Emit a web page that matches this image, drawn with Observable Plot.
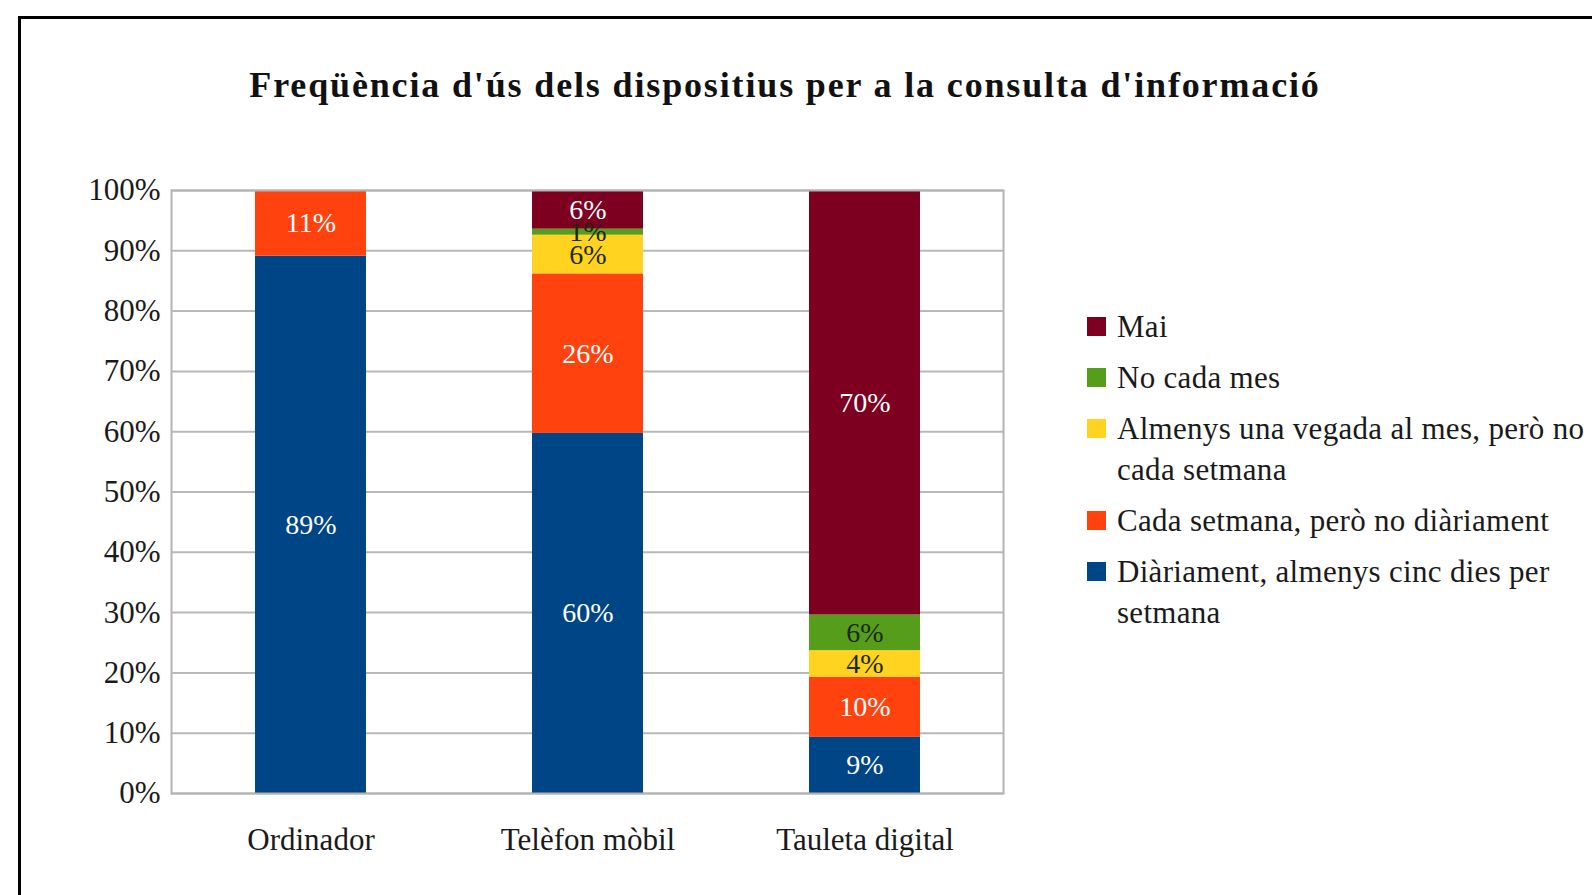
<!DOCTYPE html>
<html>
<head>
<meta charset="utf-8">
<script src="https://cdn.jsdelivr.net/npm/d3@7"></script>
<script src="https://cdn.jsdelivr.net/npm/@observablehq/plot@0.6"></script>
<style>
  html, body { margin: 0; padding: 0; background: #fff; }
  #wrap { position: relative; width: 1592px; height: 895px; overflow: hidden; background: #fff; font-family: "Liberation Serif", serif; }
  #border { position: absolute; left: 18px; top: 16px; width: 1700px; height: 1000px; border-top: 3px solid #000; border-left: 3px solid #000; }
  #chart { position: absolute; left: 0; top: 0; }
  #title { position: absolute; left: 0; top: 67px; width: 1570px; text-align: center; font-weight: bold; font-size: 36px; line-height: 36px; letter-spacing: 1.85px; color: #111; }
  #legend { position: absolute; left: 1087px; top: 306px; font-size: 31px; line-height: 41px; color: #1a1a1a; letter-spacing: 0.3px; }
  .item { display: flex; align-items: flex-start; margin-bottom: 10px; }
  .sw { width: 19px; height: 19px; margin-top: 11px; margin-right: 11px; flex: none; }
  .lab { width: 470px; }
</style>
</head>
<body>
<div id="wrap">
  <div id="border"></div>
  <div id="chart"></div>
  <div id="title"></div>
  <div id="legend"></div>
</div>
<script>
const titleText = "Freqüència d'ús dels dispositius per a la consulta d'informació";
const categories = ["Ordinador", "Telèfon mòbil", "Tauleta digital"];
const series = [
  "Diàriament, almenys cinc dies per setmana",
  "Cada setmana, però no diàriament",
  "Almenys una vegada al mes, però no cada setmana",
  "No cada mes",
  "Mai"
];
const colors = ["#004586", "#ff420e", "#ffd320", "#579d1c", "#7e0021"];
const darkLabelSeries = ["Almenys una vegada al mes, però no cada setmana", "No cada mes"];
// values per category (percent), in category order
const diariament  = [89.1, 59.6, 9.3];
const cadaSetmana = [10.9, 26.4, 10.0];
const almenys     = [0,    6.4,  4.4];
const noCadaMes   = [0,    1.0,  5.9];
const mai         = [0,    6.4,  70.4];
const yTicks = [0, 10, 20, 30, 40, 50, 60, 70, 80, 90, 100];

const seriesValues = [diariament, cadaSetmana, almenys, noCadaMes, mai];
const data = [];
series.forEach((s, si) => {
  categories.forEach((c, ci) => {
    const v = seriesValues[si][ci];
    if (v > 0) data.push({category: c, series: s, value: v});
  });
});

document.getElementById("title").textContent = titleText;

const stackOpts = {x: "category", y: "value", z: "series", order: series, offset: "normalize"};
const isDark = d => darkLabelSeries.includes(d.series);
const label = d => Math.round(d.value) + "%";

const chart = Plot.plot({
  width: 1592,
  height: 895,
  marginLeft: 171,
  marginRight: 589,
  marginTop: 190,
  marginBottom: 102,
  style: {fontFamily: "Liberation Serif", fontSize: "30px", color: "#1a1a1a", background: "transparent"},
  x: {domain: categories, paddingInner: 0.6, paddingOuter: 0.3, label: null},
  y: {domain: [0, 1], label: null},
  color: {domain: series, range: colors},
  marks: [
    Plot.gridY(yTicks.map(d => d / 100), {stroke: "#b8b8b8", strokeOpacity: 1, strokeWidth: 2}),
    Plot.barY(data, Plot.stackY({...stackOpts, fill: "series"})),
    Plot.text(data, Plot.stackY({...stackOpts, text: d => isDark(d) ? null : label(d), fill: "#ffffff", fontSize: 28})),
    Plot.text(data, Plot.stackY({...stackOpts, text: d => isDark(d) ? label(d) : null, fill: "#1a2a10", fontSize: 28})),
    Plot.frame({stroke: "#b3b3b3", strokeWidth: 2}),
    Plot.axisY({ticks: yTicks.map(d => d / 100), tickFormat: d => Math.round(d * 100) + "%", tickSize: 0, tickPadding: 11, fontSize: 31}),
    Plot.axisX({tickSize: 0, tickPadding: 34, fontSize: 31})
  ]
});
document.getElementById("chart").appendChild(chart);

const legend = document.getElementById("legend");
series.slice().reverse().forEach(s => {
  const i = series.indexOf(s);
  const item = document.createElement("div");
  item.className = "item";
  const sw = document.createElement("div");
  sw.className = "sw";
  sw.style.background = colors[i];
  const lab = document.createElement("div");
  lab.className = "lab";
  lab.textContent = s;
  item.appendChild(sw);
  item.appendChild(lab);
  legend.appendChild(item);
});
</script>
</body>
</html>
